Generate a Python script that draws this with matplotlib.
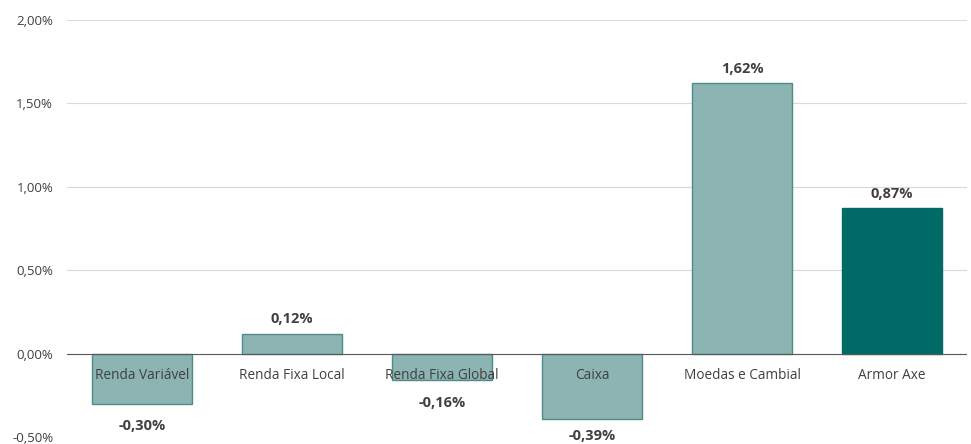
import numpy as np
import matplotlib.pyplot as plt
from matplotlib.ticker import FuncFormatter

categorias = ['Renda Variável', 'Renda Fixa Local', 'Renda Fixa Global', 'Caixa', 'Moedas e Cambial', 'Armor Axe']
valores = [-0.30, 0.12, -0.16, -0.39, 1.62, 0.87]
rotulos = ['-0,30%', '0,12%', '-0,16%', '-0,39%', '1,62%', '0,87%']

cor_clara = '#8BB4B2'
borda_clara = '#4F8B88'
cor_escura = '#006A66'

plt.rcParams['font.family'] = ['Open Sans', 'DejaVu Sans']

fig = plt.figure(figsize=(9.71, 4.44), dpi=100)
ax = fig.add_axes([67/971, 7/444, 900/971, 417/444])

x = np.arange(len(categorias))
cores = [cor_clara]*5 + [cor_escura]
bordas = [borda_clara]*5 + [cor_escura]
ax.bar(x, valores, width=0.667, color=cores, edgecolor=bordas, linewidth=1, zorder=3)

ax.set_xlim(-0.5, len(categorias)-0.5)
ax.set_ylim(-0.5, 2.0)
ax.set_yticks([-0.5, 0, 0.5, 1.0, 1.5, 2.0])
ax.yaxis.set_major_formatter(FuncFormatter(lambda v, p: ('%.2f%%' % v).replace('.', ',')))
ax.grid(axis='y', color='#D9D9D9', linewidth=0.8, zorder=0)
ax.axhline(0, color='#595959', linewidth=0.8, zorder=4)
for s in ax.spines.values():
    s.set_visible(False)
ax.tick_params(axis='y', length=0, labelsize=9.5, labelcolor='#404040', pad=10)
ax.set_xticks([])

# rotulos das categorias logo abaixo do zero
for xi, cat in zip(x, categorias):
    ax.annotate(cat, (xi, 0), xytext=(0, -16), textcoords='offset points',
                ha='center', va='center', fontsize=9.8, color='#404040', zorder=5)

# valores (os negativos ficam dentro da area do grafico)
for xi, v, r in zip(x, valores, rotulos):
    if v > 0:
        ax.annotate(r, (xi, v), xytext=(0, 10.5), textcoords='offset points',
                    ha='center', va='center', fontsize=10.5, fontweight='bold', color='#404040')
    else:
        ax.text(xi, max(v - 0.135, -0.495), r, ha='center', va='center',
                fontsize=10.5, fontweight='bold', color='#404040')

fig.savefig('out.png', dpi=100)
